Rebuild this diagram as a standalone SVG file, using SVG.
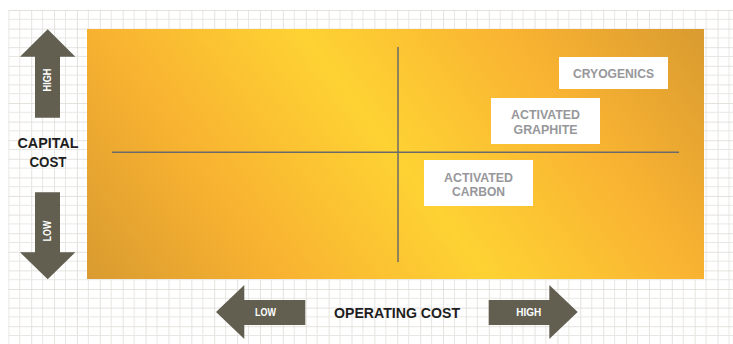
<svg xmlns="http://www.w3.org/2000/svg" width="733" height="344" viewBox="0 0 733 344">
  <style>
    .arrow { fill: #625f51; }
    .albl { font-family: "Liberation Sans", Arial, sans-serif; font-weight: bold; font-size: 10px; fill: #ffffff; text-anchor: middle; }
    .axis { font-family: "Liberation Sans", Arial, sans-serif; font-weight: bold; font-size: 14.5px; fill: #1e1e1e; text-anchor: middle; }
    .box { fill: #ffffff; }
    .btxt { font-family: "Liberation Sans", Arial, sans-serif; font-weight: bold; font-size: 13.5px; fill: #97979b; text-anchor: middle; }
    .quad { stroke: #6a6a6a; stroke-width: 1.5; fill: none; }
  </style>
  <defs>
    <pattern id="grid" patternUnits="userSpaceOnUse" x="8.3" y="10" width="22.88" height="18.6">
      <rect width="22.88" height="18.6" fill="#ffffff"/>
      <line x1="0" y1="0" x2="0" y2="18.6" stroke="#dfdcd7" stroke-width="1.6"/>
      <line x1="11.44" y1="0" x2="11.44" y2="18.6" stroke="#e9e7e3" stroke-width="1"/>
      <line x1="0" y1="0" x2="22.88" y2="0" stroke="#dfdcd7" stroke-width="1.6"/>
      <line x1="0" y1="9.3" x2="22.88" y2="9.3" stroke="#e9e7e3" stroke-width="1"/>
    </pattern>
    <linearGradient id="gold" gradientUnits="userSpaceOnUse" x1="138.5" y1="347.3" x2="652.5" y2="-39.3">
      <stop offset="0" stop-color="#d99b30"/>
      <stop offset="0.24" stop-color="#f8b231"/>
      <stop offset="0.5" stop-color="#fed233"/>
      <stop offset="0.76" stop-color="#f9b332"/>
      <stop offset="1" stop-color="#d99b30"/>
    </linearGradient>
  </defs>
  <rect x="0" y="0" width="733" height="344" fill="#ffffff"/>
  <rect x="8.3" y="10" width="725" height="334" fill="url(#grid)"/>

  <g id="chart">
    <rect x="87" y="29" width="617" height="250" fill="url(#gold)"/>
  </g>

  <g id="connectors">
    <line class="quad" x1="398" y1="47" x2="398" y2="262"/>
    <line class="quad" x1="112" y1="152.3" x2="679" y2="152.3"/>
  </g>

  <g id="capital-high">
    <polygon class="arrow" points="47.7,29.3 75.3,56.7 60,56.7 60,117.7 35,117.7 35,56.7 20,56.7"/>
    <text class="albl" transform="translate(47.5,80) rotate(-90)" y="3.6" textLength="23" lengthAdjust="spacingAndGlyphs">HIGH</text>
  </g>
  <g id="capital-low">
    <polygon class="arrow" points="35,192.3 60,192.3 60,252.3 75.3,252.3 47.7,279.3 20,252.3 35,252.3"/>
    <text class="albl" transform="translate(47.5,231) rotate(-90)" y="3.6" textLength="20.5" lengthAdjust="spacingAndGlyphs">LOW</text>
  </g>
  <g id="capital-label">
    <text class="axis" x="48" y="147.7" textLength="61" lengthAdjust="spacingAndGlyphs">CAPITAL</text>
    <text class="axis" x="48" y="166.7" textLength="37" lengthAdjust="spacingAndGlyphs">COST</text>
  </g>

  <g id="operating-low">
    <polygon class="arrow" points="216,312 244.3,285 244.3,300 305.3,300 305.3,325 244.3,325 244.3,339"/>
    <text class="albl" x="265.5" y="316" textLength="21" lengthAdjust="spacingAndGlyphs">LOW</text>
  </g>
  <g id="operating-high">
    <polygon class="arrow" points="488.7,300 549.3,300 549.3,285 577.7,312 549.3,339 549.3,325 488.7,325"/>
    <text class="albl" x="528.7" y="316" textLength="25" lengthAdjust="spacingAndGlyphs">HIGH</text>
  </g>
  <g id="operating-label">
    <text class="axis" x="397" y="317.5" style="font-size:15.5px" textLength="126" lengthAdjust="spacingAndGlyphs">OPERATING COST</text>
  </g>

  <g id="cryogenics">
    <rect class="box" x="559" y="57" width="109" height="32"/>
    <text class="btxt" x="613.5" y="78.3" textLength="81" lengthAdjust="spacingAndGlyphs">CRYOGENICS</text>
  </g>
  <g id="activated-graphite">
    <rect class="box" x="491" y="98" width="109" height="46"/>
    <text class="btxt" x="545.5" y="119.2" textLength="69" lengthAdjust="spacingAndGlyphs">ACTIVATED</text>
    <text class="btxt" x="545.5" y="133.5" textLength="64" lengthAdjust="spacingAndGlyphs">GRAPHITE</text>
  </g>
  <g id="activated-carbon">
    <rect class="box" x="424" y="160" width="109" height="46"/>
    <text class="btxt" x="478.5" y="181.5" textLength="69" lengthAdjust="spacingAndGlyphs">ACTIVATED</text>
    <text class="btxt" x="478.5" y="196.2" textLength="53" lengthAdjust="spacingAndGlyphs">CARBON</text>
  </g>
</svg>
